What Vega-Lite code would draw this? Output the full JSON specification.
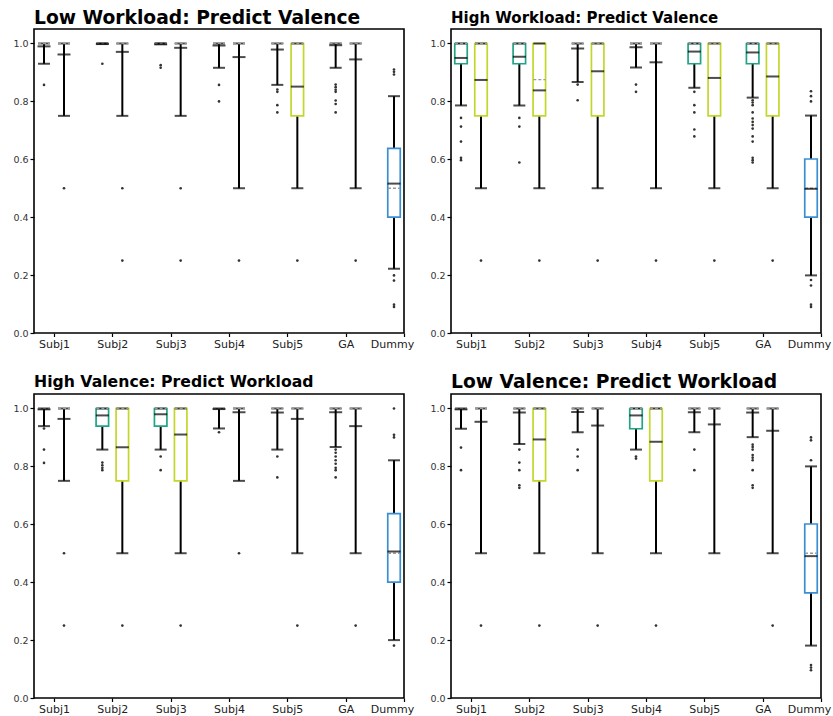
{
  "$schema": "https://vega.github.io/schema/vega-lite/v6.json",
  "autosize": {"type": "pad"},
  "padding": {"left": 12, "top": 7, "right": 0, "bottom": 0},
  "background": "white",
  "config": {
    "font": "DejaVu Sans",
    "view": {"stroke": "black", "strokeWidth": 1.6},
    "title": {"anchor": "start", "frame": "group", "font": "DejaVu Sans", "fontWeight": "bold", "baseline": "alphabetic", "color": "black"},
    "axisY": {"labelFontSize": 9.5, "labelColor": "#333", "tickColor": "black", "tickSize": 4, "tickWidth": 1.2, "labelPadding": 2, "domain": false, "grid": false, "titleOpacity": 0},
    "axisX": {"labelFontSize": 11, "labelColor": "#222", "tickColor": "black", "tickSize": 3.5, "tickWidth": 1.2, "labelPadding": 2, "domain": false, "grid": false, "labelAngle": 0}
  },
  "datasets": {
    "boxes": [
      {"panel":"LW-V","group":"Subj1","model":"A","lo":0.93,"q1":1,"median":1,"mean":0.99,"q3":1,"hi":1},
      {"panel":"LW-V","group":"Subj1","model":"B","lo":0.75,"q1":1,"median":1,"mean":0.962,"q3":1,"hi":1},
      {"panel":"LW-V","group":"Subj2","model":"A","lo":1,"q1":1,"median":1,"mean":0.998,"q3":1,"hi":1},
      {"panel":"LW-V","group":"Subj2","model":"B","lo":0.75,"q1":1,"median":1,"mean":0.971,"q3":1,"hi":1},
      {"panel":"LW-V","group":"Subj3","model":"A","lo":1,"q1":1,"median":1,"mean":0.997,"q3":1,"hi":1},
      {"panel":"LW-V","group":"Subj3","model":"B","lo":0.75,"q1":1,"median":1,"mean":0.985,"q3":1,"hi":1},
      {"panel":"LW-V","group":"Subj4","model":"A","lo":0.916,"q1":1,"median":1,"mean":0.993,"q3":1,"hi":1},
      {"panel":"LW-V","group":"Subj4","model":"B","lo":0.5,"q1":1,"median":1,"mean":0.953,"q3":1,"hi":1},
      {"panel":"LW-V","group":"Subj5","model":"A","lo":0.857,"q1":1,"median":1,"mean":0.979,"q3":1,"hi":1},
      {"panel":"LW-V","group":"Subj5","model":"B","lo":0.5,"q1":0.75,"median":1,"mean":0.851,"q3":1,"hi":1},
      {"panel":"LW-V","group":"GA","model":"A","lo":0.916,"q1":1,"median":1,"mean":0.994,"q3":1,"hi":1},
      {"panel":"LW-V","group":"GA","model":"B","lo":0.5,"q1":1,"median":1,"mean":0.945,"q3":1,"hi":1},
      {"panel":"LW-V","group":"Dummy","model":"A","lo":0.222,"q1":0.4,"median":0.5,"mean":0.516,"q3":0.638,"hi":0.818},

      {"panel":"HW-V","group":"Subj1","model":"A","lo":0.786,"q1":0.93,"median":1,"mean":0.95,"q3":1,"hi":1},
      {"panel":"HW-V","group":"Subj1","model":"B","lo":0.5,"q1":0.75,"median":1,"mean":0.874,"q3":1,"hi":1},
      {"panel":"HW-V","group":"Subj2","model":"A","lo":0.786,"q1":0.93,"median":1,"mean":0.954,"q3":1,"hi":1},
      {"panel":"HW-V","group":"Subj2","model":"B","lo":0.5,"q1":0.75,"median":0.875,"mean":0.838,"q3":1,"hi":1},
      {"panel":"HW-V","group":"Subj3","model":"A","lo":0.867,"q1":1,"median":1,"mean":0.983,"q3":1,"hi":1},
      {"panel":"HW-V","group":"Subj3","model":"B","lo":0.5,"q1":0.75,"median":1,"mean":0.904,"q3":1,"hi":1},
      {"panel":"HW-V","group":"Subj4","model":"A","lo":0.917,"q1":1,"median":1,"mean":0.987,"q3":1,"hi":1},
      {"panel":"HW-V","group":"Subj4","model":"B","lo":0.5,"q1":1,"median":1,"mean":0.935,"q3":1,"hi":1},
      {"panel":"HW-V","group":"Subj5","model":"A","lo":0.847,"q1":0.93,"median":1,"mean":0.972,"q3":1,"hi":1},
      {"panel":"HW-V","group":"Subj5","model":"B","lo":0.5,"q1":0.75,"median":1,"mean":0.881,"q3":1,"hi":1},
      {"panel":"HW-V","group":"GA","model":"A","lo":0.813,"q1":0.93,"median":1,"mean":0.969,"q3":1,"hi":1},
      {"panel":"HW-V","group":"GA","model":"B","lo":0.5,"q1":0.75,"median":1,"mean":0.886,"q3":1,"hi":1},
      {"panel":"HW-V","group":"Dummy","model":"A","lo":0.199,"q1":0.4,"median":0.5,"mean":0.498,"q3":0.601,"hi":0.751},

      {"panel":"HV-W","group":"Subj1","model":"A","lo":0.939,"q1":1,"median":1,"mean":0.997,"q3":1,"hi":1},
      {"panel":"HV-W","group":"Subj1","model":"B","lo":0.75,"q1":1,"median":1,"mean":0.964,"q3":1,"hi":1},
      {"panel":"HV-W","group":"Subj2","model":"A","lo":0.858,"q1":0.939,"median":1,"mean":0.976,"q3":1,"hi":1},
      {"panel":"HV-W","group":"Subj2","model":"B","lo":0.5,"q1":0.75,"median":1,"mean":0.866,"q3":1,"hi":1},
      {"panel":"HV-W","group":"Subj3","model":"A","lo":0.858,"q1":0.939,"median":1,"mean":0.98,"q3":1,"hi":1},
      {"panel":"HV-W","group":"Subj3","model":"B","lo":0.5,"q1":0.75,"median":1,"mean":0.91,"q3":1,"hi":1},
      {"panel":"HV-W","group":"Subj4","model":"A","lo":0.931,"q1":1,"median":1,"mean":0.998,"q3":1,"hi":1},
      {"panel":"HV-W","group":"Subj4","model":"B","lo":0.75,"q1":1,"median":1,"mean":0.987,"q3":1,"hi":1},
      {"panel":"HV-W","group":"Subj5","model":"A","lo":0.858,"q1":1,"median":1,"mean":0.986,"q3":1,"hi":1},
      {"panel":"HV-W","group":"Subj5","model":"B","lo":0.5,"q1":1,"median":1,"mean":0.964,"q3":1,"hi":1},
      {"panel":"HV-W","group":"GA","model":"A","lo":0.867,"q1":1,"median":1,"mean":0.987,"q3":1,"hi":1},
      {"panel":"HV-W","group":"GA","model":"B","lo":0.5,"q1":1,"median":1,"mean":0.939,"q3":1,"hi":1},
      {"panel":"HV-W","group":"Dummy","model":"A","lo":0.2,"q1":0.4,"median":0.5,"mean":0.506,"q3":0.637,"hi":0.821},

      {"panel":"LV-W","group":"Subj1","model":"A","lo":0.93,"q1":1,"median":1,"mean":0.997,"q3":1,"hi":1},
      {"panel":"LV-W","group":"Subj1","model":"B","lo":0.5,"q1":1,"median":1,"mean":0.954,"q3":1,"hi":1},
      {"panel":"LV-W","group":"Subj2","model":"A","lo":0.877,"q1":1,"median":1,"mean":0.986,"q3":1,"hi":1},
      {"panel":"LV-W","group":"Subj2","model":"B","lo":0.5,"q1":0.75,"median":1,"mean":0.893,"q3":1,"hi":1},
      {"panel":"LV-W","group":"Subj3","model":"A","lo":0.918,"q1":1,"median":1,"mean":0.988,"q3":1,"hi":1},
      {"panel":"LV-W","group":"Subj3","model":"B","lo":0.5,"q1":1,"median":1,"mean":0.941,"q3":1,"hi":1},
      {"panel":"LV-W","group":"Subj4","model":"A","lo":0.858,"q1":0.93,"median":1,"mean":0.976,"q3":1,"hi":1},
      {"panel":"LV-W","group":"Subj4","model":"B","lo":0.5,"q1":0.75,"median":1,"mean":0.885,"q3":1,"hi":1},
      {"panel":"LV-W","group":"Subj5","model":"A","lo":0.918,"q1":1,"median":1,"mean":0.987,"q3":1,"hi":1},
      {"panel":"LV-W","group":"Subj5","model":"B","lo":0.5,"q1":1,"median":1,"mean":0.945,"q3":1,"hi":1},
      {"panel":"LV-W","group":"GA","model":"A","lo":0.901,"q1":1,"median":1,"mean":0.986,"q3":1,"hi":1},
      {"panel":"LV-W","group":"GA","model":"B","lo":0.5,"q1":1,"median":1,"mean":0.923,"q3":1,"hi":1},
      {"panel":"LV-W","group":"Dummy","model":"A","lo":0.181,"q1":0.363,"median":0.5,"mean":0.49,"q3":0.601,"hi":0.8}
    ],
    "fliers": [
      {"panel":"LW-V","group":"Subj1","model":"A","v":0.857},
      {"panel":"LW-V","group":"Subj1","model":"B","v":0.5},
      {"panel":"LW-V","group":"Subj2","model":"A","v":0.93},
      {"panel":"LW-V","group":"Subj2","model":"B","v":0.5},
      {"panel":"LW-V","group":"Subj2","model":"B","v":0.25},
      {"panel":"LW-V","group":"Subj3","model":"A","v":0.925},
      {"panel":"LW-V","group":"Subj3","model":"A","v":0.916},
      {"panel":"LW-V","group":"Subj3","model":"B","v":0.5},
      {"panel":"LW-V","group":"Subj3","model":"B","v":0.25},
      {"panel":"LW-V","group":"Subj4","model":"A","v":0.857},
      {"panel":"LW-V","group":"Subj4","model":"A","v":0.8},
      {"panel":"LW-V","group":"Subj4","model":"B","v":0.25},
      {"panel":"LW-V","group":"Subj5","model":"A","v":0.841},
      {"panel":"LW-V","group":"Subj5","model":"A","v":0.833},
      {"panel":"LW-V","group":"Subj5","model":"A","v":0.787},
      {"panel":"LW-V","group":"Subj5","model":"A","v":0.762},
      {"panel":"LW-V","group":"Subj5","model":"B","v":0.25},
      {"panel":"LW-V","group":"GA","model":"A","v":0.858},
      {"panel":"LW-V","group":"GA","model":"A","v":0.849},
      {"panel":"LW-V","group":"GA","model":"A","v":0.84},
      {"panel":"LW-V","group":"GA","model":"A","v":0.833},
      {"panel":"LW-V","group":"GA","model":"A","v":0.803},
      {"panel":"LW-V","group":"GA","model":"A","v":0.791},
      {"panel":"LW-V","group":"GA","model":"A","v":0.762},
      {"panel":"LW-V","group":"GA","model":"B","v":0.25},
      {"panel":"LW-V","group":"Dummy","model":"A","v":0.91},
      {"panel":"LW-V","group":"Dummy","model":"A","v":0.902},
      {"panel":"LW-V","group":"Dummy","model":"A","v":0.893},
      {"panel":"LW-V","group":"Dummy","model":"A","v":0.199},
      {"panel":"LW-V","group":"Dummy","model":"A","v":0.181},
      {"panel":"LW-V","group":"Dummy","model":"A","v":0.098},
      {"panel":"LW-V","group":"Dummy","model":"A","v":0.09},

      {"panel":"HW-V","group":"Subj1","model":"A","v":0.743},
      {"panel":"HW-V","group":"Subj1","model":"A","v":0.713},
      {"panel":"HW-V","group":"Subj1","model":"A","v":0.661},
      {"panel":"HW-V","group":"Subj1","model":"A","v":0.605},
      {"panel":"HW-V","group":"Subj1","model":"A","v":0.597},
      {"panel":"HW-V","group":"Subj1","model":"B","v":0.25},
      {"panel":"HW-V","group":"Subj2","model":"A","v":0.743},
      {"panel":"HW-V","group":"Subj2","model":"A","v":0.713},
      {"panel":"HW-V","group":"Subj2","model":"A","v":0.589},
      {"panel":"HW-V","group":"Subj2","model":"B","v":0.25},
      {"panel":"HW-V","group":"Subj3","model":"A","v":0.858},
      {"panel":"HW-V","group":"Subj3","model":"A","v":0.804},
      {"panel":"HW-V","group":"Subj3","model":"B","v":0.25},
      {"panel":"HW-V","group":"Subj4","model":"A","v":0.858},
      {"panel":"HW-V","group":"Subj4","model":"A","v":0.833},
      {"panel":"HW-V","group":"Subj4","model":"B","v":0.25},
      {"panel":"HW-V","group":"Subj5","model":"A","v":0.833},
      {"panel":"HW-V","group":"Subj5","model":"A","v":0.787},
      {"panel":"HW-V","group":"Subj5","model":"A","v":0.762},
      {"panel":"HW-V","group":"Subj5","model":"A","v":0.703},
      {"panel":"HW-V","group":"Subj5","model":"A","v":0.679},
      {"panel":"HW-V","group":"Subj5","model":"B","v":0.25},
      {"panel":"HW-V","group":"GA","model":"A","v":0.804},
      {"panel":"HW-V","group":"GA","model":"A","v":0.796},
      {"panel":"HW-V","group":"GA","model":"A","v":0.787},
      {"panel":"HW-V","group":"GA","model":"A","v":0.762},
      {"panel":"HW-V","group":"GA","model":"A","v":0.741},
      {"panel":"HW-V","group":"GA","model":"A","v":0.729},
      {"panel":"HW-V","group":"GA","model":"A","v":0.718},
      {"panel":"HW-V","group":"GA","model":"A","v":0.706},
      {"panel":"HW-V","group":"GA","model":"A","v":0.679},
      {"panel":"HW-V","group":"GA","model":"A","v":0.661},
      {"panel":"HW-V","group":"GA","model":"A","v":0.605},
      {"panel":"HW-V","group":"GA","model":"A","v":0.597},
      {"panel":"HW-V","group":"GA","model":"A","v":0.589},
      {"panel":"HW-V","group":"GA","model":"B","v":0.25},
      {"panel":"HW-V","group":"Dummy","model":"A","v":0.835},
      {"panel":"HW-V","group":"Dummy","model":"A","v":0.818},
      {"panel":"HW-V","group":"Dummy","model":"A","v":0.8},
      {"panel":"HW-V","group":"Dummy","model":"A","v":0.183},
      {"panel":"HW-V","group":"Dummy","model":"A","v":0.164},
      {"panel":"HW-V","group":"Dummy","model":"A","v":0.098},
      {"panel":"HW-V","group":"Dummy","model":"A","v":0.09},

      {"panel":"HV-W","group":"Subj1","model":"A","v":0.931},
      {"panel":"HV-W","group":"Subj1","model":"A","v":0.858},
      {"panel":"HV-W","group":"Subj1","model":"A","v":0.812},
      {"panel":"HV-W","group":"Subj1","model":"B","v":0.5},
      {"panel":"HV-W","group":"Subj1","model":"B","v":0.25},
      {"panel":"HV-W","group":"Subj2","model":"A","v":0.813},
      {"panel":"HV-W","group":"Subj2","model":"A","v":0.804},
      {"panel":"HV-W","group":"Subj2","model":"A","v":0.795},
      {"panel":"HV-W","group":"Subj2","model":"A","v":0.787},
      {"panel":"HV-W","group":"Subj2","model":"B","v":0.25},
      {"panel":"HV-W","group":"Subj3","model":"A","v":0.834},
      {"panel":"HV-W","group":"Subj3","model":"A","v":0.787},
      {"panel":"HV-W","group":"Subj3","model":"B","v":0.25},
      {"panel":"HV-W","group":"Subj4","model":"A","v":0.918},
      {"panel":"HV-W","group":"Subj4","model":"B","v":0.5},
      {"panel":"HV-W","group":"Subj5","model":"A","v":0.834},
      {"panel":"HV-W","group":"Subj5","model":"A","v":0.762},
      {"panel":"HV-W","group":"Subj5","model":"B","v":0.25},
      {"panel":"HV-W","group":"GA","model":"A","v":0.858},
      {"panel":"HV-W","group":"GA","model":"A","v":0.847},
      {"panel":"HV-W","group":"GA","model":"A","v":0.834},
      {"panel":"HV-W","group":"GA","model":"A","v":0.821},
      {"panel":"HV-W","group":"GA","model":"A","v":0.809},
      {"panel":"HV-W","group":"GA","model":"A","v":0.795},
      {"panel":"HV-W","group":"GA","model":"A","v":0.787},
      {"panel":"HV-W","group":"GA","model":"A","v":0.762},
      {"panel":"HV-W","group":"GA","model":"B","v":0.25},
      {"panel":"HV-W","group":"Dummy","model":"A","v":1.0},
      {"panel":"HV-W","group":"Dummy","model":"A","v":0.909},
      {"panel":"HV-W","group":"Dummy","model":"A","v":0.9},
      {"panel":"HV-W","group":"Dummy","model":"A","v":0.181},

      {"panel":"LV-W","group":"Subj1","model":"A","v":0.865},
      {"panel":"LV-W","group":"Subj1","model":"A","v":0.787},
      {"panel":"LV-W","group":"Subj1","model":"B","v":0.25},
      {"panel":"LV-W","group":"Subj2","model":"A","v":0.858},
      {"panel":"LV-W","group":"Subj2","model":"A","v":0.813},
      {"panel":"LV-W","group":"Subj2","model":"A","v":0.787},
      {"panel":"LV-W","group":"Subj2","model":"A","v":0.735},
      {"panel":"LV-W","group":"Subj2","model":"A","v":0.726},
      {"panel":"LV-W","group":"Subj2","model":"B","v":0.25},
      {"panel":"LV-W","group":"Subj3","model":"A","v":0.858},
      {"panel":"LV-W","group":"Subj3","model":"A","v":0.834},
      {"panel":"LV-W","group":"Subj3","model":"A","v":0.787},
      {"panel":"LV-W","group":"Subj3","model":"B","v":0.25},
      {"panel":"LV-W","group":"Subj4","model":"A","v":0.834},
      {"panel":"LV-W","group":"Subj4","model":"A","v":0.827},
      {"panel":"LV-W","group":"Subj4","model":"B","v":0.25},
      {"panel":"LV-W","group":"Subj5","model":"A","v":0.858},
      {"panel":"LV-W","group":"Subj5","model":"A","v":0.787},
      {"panel":"LV-W","group":"GA","model":"A","v":0.875},
      {"panel":"LV-W","group":"GA","model":"A","v":0.867},
      {"panel":"LV-W","group":"GA","model":"A","v":0.858},
      {"panel":"LV-W","group":"GA","model":"A","v":0.839},
      {"panel":"LV-W","group":"GA","model":"A","v":0.83},
      {"panel":"LV-W","group":"GA","model":"A","v":0.821},
      {"panel":"LV-W","group":"GA","model":"A","v":0.787},
      {"panel":"LV-W","group":"GA","model":"A","v":0.735},
      {"panel":"LV-W","group":"GA","model":"A","v":0.726},
      {"panel":"LV-W","group":"GA","model":"B","v":0.25},
      {"panel":"LV-W","group":"Dummy","model":"A","v":0.9},
      {"panel":"LV-W","group":"Dummy","model":"A","v":0.89},
      {"panel":"LV-W","group":"Dummy","model":"A","v":0.821},
      {"panel":"LV-W","group":"Dummy","model":"A","v":0.114},
      {"panel":"LV-W","group":"Dummy","model":"A","v":0.105},
      {"panel":"LV-W","group":"Dummy","model":"A","v":0.096}
    ]
  },
  "columns": 2,
  "bounds": "flush",
  "spacing": {"row": 61, "column": 47},
  "concat": [
    {
      "title": {"text": "Low Workload: Predict Valence", "fontSize": 18.7, "offset": 1.6},
      "width": 370, "height": 304,
      "data": {"name": "boxes"},
      "transform": [{"filter": "datum.panel === 'LW-V'"}],
      "encoding": {
        "x": {"field": "group", "type": "nominal", "title": null, "scale": {"type": "point", "padding": 0, "domain": ["Subj1","Subj2","Subj3","Subj4","Subj5","GA","Dummy"], "range": [20, 370]},
              "axis": {"labelOffset": {"condition": {"test": "datum.value === 'Dummy'", "value": -12}, "value": 0}}},
        "xOffset": {"field": "model", "type": "nominal", "scale": {"type": "point", "padding": 0, "domain": ["A","B"], "range": [-10, 10]}}
      },
      "layer": [
        {"mark": {"type": "rule", "color": "black", "strokeWidth": 2},
         "encoding": {"y": {"field": "lo", "type": "quantitative", "title": null, "scale": {"domain": [0, 1.05], "nice": false, "zero": false},
                            "axis": {"values": [0, 0.2, 0.4, 0.6, 0.8, 1.0], "format": ".1f"}},
                      "y2": {"field": "hi"}}},
        {"transform": [{"filter": "datum.q1 < datum.q3"}],
         "mark": {"type": "bar", "fill": "white", "strokeWidth": 1.7, "width": 12.5},
         "encoding": {"y": {"field": "q1", "type": "quantitative", "title": null, "scale": {"domain": [0, 1.05], "nice": false, "zero": false}},
                      "y2": {"field": "q3"},
                      "stroke": {"condition": {"test": "datum.group === 'Dummy'", "value": "#3a8fd4"}, "field": "model", "type": "nominal", "scale": {"domain": ["A","B"], "range": ["#21a386", "#c3d72a"]}, "legend": null}}},
        {"mark": {"type": "tick", "color": "black", "thickness": 2, "size": 12},
         "encoding": {"y": {"field": "lo", "type": "quantitative", "title": null, "scale": {"domain": [0, 1.05], "nice": false, "zero": false}}}},
        {"mark": {"type": "tick", "color": "black", "thickness": 2, "size": 12},
         "encoding": {"y": {"field": "hi", "type": "quantitative", "title": null, "scale": {"domain": [0, 1.05], "nice": false, "zero": false}}}},
        {"mark": {"type": "point", "shape": "M-1,0L1,0", "size": 144, "filled": false, "stroke": "#9a9a9a", "strokeWidth": 1.3, "strokeDash": [3, 2], "opacity": 1},
         "encoding": {"y": {"field": "median", "type": "quantitative", "title": null, "scale": {"domain": [0, 1.05], "nice": false, "zero": false}}}},
        {"mark": {"type": "tick", "color": "black", "thickness": 2, "size": 13},
         "encoding": {"y": {"field": "mean", "type": "quantitative", "title": null, "scale": {"domain": [0, 1.05], "nice": false, "zero": false}}}},
        {"data": {"name": "fliers"}, "transform": [{"filter": "datum.panel === 'LW-V'"}],
         "mark": {"type": "circle", "color": "#333", "size": 7, "opacity": 1},
         "encoding": {"y": {"field": "v", "type": "quantitative", "title": null, "scale": {"domain": [0, 1.05], "nice": false, "zero": false}}}}
      ]
    },
    {
      "title": {"text": "High Workload: Predict Valence", "fontSize": 15, "offset": 3.3},
      "width": 370, "height": 304,
      "data": {"name": "boxes"},
      "transform": [{"filter": "datum.panel === 'HW-V'"}],
      "encoding": {
        "x": {"field": "group", "type": "nominal", "title": null, "scale": {"type": "point", "padding": 0, "domain": ["Subj1","Subj2","Subj3","Subj4","Subj5","GA","Dummy"], "range": [20, 370]},
              "axis": {"labelOffset": {"condition": {"test": "datum.value === 'Dummy'", "value": -12}, "value": 0}}},
        "xOffset": {"field": "model", "type": "nominal", "scale": {"type": "point", "padding": 0, "domain": ["A","B"], "range": [-10, 10]}}
      },
      "layer": [
        {"mark": {"type": "rule", "color": "black", "strokeWidth": 2},
         "encoding": {"y": {"field": "lo", "type": "quantitative", "title": null, "scale": {"domain": [0, 1.05], "nice": false, "zero": false},
                            "axis": {"values": [0, 0.2, 0.4, 0.6, 0.8, 1.0], "format": ".1f"}},
                      "y2": {"field": "hi"}}},
        {"transform": [{"filter": "datum.q1 < datum.q3"}],
         "mark": {"type": "bar", "fill": "white", "strokeWidth": 1.7, "width": 12.5},
         "encoding": {"y": {"field": "q1", "type": "quantitative", "title": null, "scale": {"domain": [0, 1.05], "nice": false, "zero": false}},
                      "y2": {"field": "q3"},
                      "stroke": {"condition": {"test": "datum.group === 'Dummy'", "value": "#3a8fd4"}, "field": "model", "type": "nominal", "scale": {"domain": ["A","B"], "range": ["#21a386", "#c3d72a"]}, "legend": null}}},
        {"mark": {"type": "tick", "color": "black", "thickness": 2, "size": 12},
         "encoding": {"y": {"field": "lo", "type": "quantitative", "title": null, "scale": {"domain": [0, 1.05], "nice": false, "zero": false}}}},
        {"mark": {"type": "tick", "color": "black", "thickness": 2, "size": 12},
         "encoding": {"y": {"field": "hi", "type": "quantitative", "title": null, "scale": {"domain": [0, 1.05], "nice": false, "zero": false}}}},
        {"mark": {"type": "point", "shape": "M-1,0L1,0", "size": 144, "filled": false, "stroke": "#9a9a9a", "strokeWidth": 1.3, "strokeDash": [3, 2], "opacity": 1},
         "encoding": {"y": {"field": "median", "type": "quantitative", "title": null, "scale": {"domain": [0, 1.05], "nice": false, "zero": false}}}},
        {"mark": {"type": "tick", "color": "black", "thickness": 2, "size": 13},
         "encoding": {"y": {"field": "mean", "type": "quantitative", "title": null, "scale": {"domain": [0, 1.05], "nice": false, "zero": false}}}},
        {"data": {"name": "fliers"}, "transform": [{"filter": "datum.panel === 'HW-V'"}],
         "mark": {"type": "circle", "color": "#333", "size": 7, "opacity": 1},
         "encoding": {"y": {"field": "v", "type": "quantitative", "title": null, "scale": {"domain": [0, 1.05], "nice": false, "zero": false}}}}
      ]
    },
    {
      "title": {"text": "High Valence: Predict Workload", "fontSize": 15.7, "offset": 3},
      "width": 370, "height": 304,
      "data": {"name": "boxes"},
      "transform": [{"filter": "datum.panel === 'HV-W'"}],
      "encoding": {
        "x": {"field": "group", "type": "nominal", "title": null, "scale": {"type": "point", "padding": 0, "domain": ["Subj1","Subj2","Subj3","Subj4","Subj5","GA","Dummy"], "range": [20, 370]},
              "axis": {"labelOffset": {"condition": {"test": "datum.value === 'Dummy'", "value": -12}, "value": 0}}},
        "xOffset": {"field": "model", "type": "nominal", "scale": {"type": "point", "padding": 0, "domain": ["A","B"], "range": [-10, 10]}}
      },
      "layer": [
        {"mark": {"type": "rule", "color": "black", "strokeWidth": 2},
         "encoding": {"y": {"field": "lo", "type": "quantitative", "title": null, "scale": {"domain": [0, 1.05], "nice": false, "zero": false},
                            "axis": {"values": [0, 0.2, 0.4, 0.6, 0.8, 1.0], "format": ".1f"}},
                      "y2": {"field": "hi"}}},
        {"transform": [{"filter": "datum.q1 < datum.q3"}],
         "mark": {"type": "bar", "fill": "white", "strokeWidth": 1.7, "width": 12.5},
         "encoding": {"y": {"field": "q1", "type": "quantitative", "title": null, "scale": {"domain": [0, 1.05], "nice": false, "zero": false}},
                      "y2": {"field": "q3"},
                      "stroke": {"condition": {"test": "datum.group === 'Dummy'", "value": "#3a8fd4"}, "field": "model", "type": "nominal", "scale": {"domain": ["A","B"], "range": ["#21a386", "#c3d72a"]}, "legend": null}}},
        {"mark": {"type": "tick", "color": "black", "thickness": 2, "size": 12},
         "encoding": {"y": {"field": "lo", "type": "quantitative", "title": null, "scale": {"domain": [0, 1.05], "nice": false, "zero": false}}}},
        {"mark": {"type": "tick", "color": "black", "thickness": 2, "size": 12},
         "encoding": {"y": {"field": "hi", "type": "quantitative", "title": null, "scale": {"domain": [0, 1.05], "nice": false, "zero": false}}}},
        {"mark": {"type": "point", "shape": "M-1,0L1,0", "size": 144, "filled": false, "stroke": "#9a9a9a", "strokeWidth": 1.3, "strokeDash": [3, 2], "opacity": 1},
         "encoding": {"y": {"field": "median", "type": "quantitative", "title": null, "scale": {"domain": [0, 1.05], "nice": false, "zero": false}}}},
        {"mark": {"type": "tick", "color": "black", "thickness": 2, "size": 13},
         "encoding": {"y": {"field": "mean", "type": "quantitative", "title": null, "scale": {"domain": [0, 1.05], "nice": false, "zero": false}}}},
        {"data": {"name": "fliers"}, "transform": [{"filter": "datum.panel === 'HV-W'"}],
         "mark": {"type": "circle", "color": "#333", "size": 7, "opacity": 1},
         "encoding": {"y": {"field": "v", "type": "quantitative", "title": null, "scale": {"domain": [0, 1.05], "nice": false, "zero": false}}}}
      ]
    },
    {
      "title": {"text": "Low Valence: Predict Workload", "fontSize": 18.7, "offset": 2.3},
      "width": 370, "height": 304,
      "data": {"name": "boxes"},
      "transform": [{"filter": "datum.panel === 'LV-W'"}],
      "encoding": {
        "x": {"field": "group", "type": "nominal", "title": null, "scale": {"type": "point", "padding": 0, "domain": ["Subj1","Subj2","Subj3","Subj4","Subj5","GA","Dummy"], "range": [20, 370]},
              "axis": {"labelOffset": {"condition": {"test": "datum.value === 'Dummy'", "value": -12}, "value": 0}}},
        "xOffset": {"field": "model", "type": "nominal", "scale": {"type": "point", "padding": 0, "domain": ["A","B"], "range": [-10, 10]}}
      },
      "layer": [
        {"mark": {"type": "rule", "color": "black", "strokeWidth": 2},
         "encoding": {"y": {"field": "lo", "type": "quantitative", "title": null, "scale": {"domain": [0, 1.05], "nice": false, "zero": false},
                            "axis": {"values": [0, 0.2, 0.4, 0.6, 0.8, 1.0], "format": ".1f"}},
                      "y2": {"field": "hi"}}},
        {"transform": [{"filter": "datum.q1 < datum.q3"}],
         "mark": {"type": "bar", "fill": "white", "strokeWidth": 1.7, "width": 12.5},
         "encoding": {"y": {"field": "q1", "type": "quantitative", "title": null, "scale": {"domain": [0, 1.05], "nice": false, "zero": false}},
                      "y2": {"field": "q3"},
                      "stroke": {"condition": {"test": "datum.group === 'Dummy'", "value": "#3a8fd4"}, "field": "model", "type": "nominal", "scale": {"domain": ["A","B"], "range": ["#21a386", "#c3d72a"]}, "legend": null}}},
        {"mark": {"type": "tick", "color": "black", "thickness": 2, "size": 12},
         "encoding": {"y": {"field": "lo", "type": "quantitative", "title": null, "scale": {"domain": [0, 1.05], "nice": false, "zero": false}}}},
        {"mark": {"type": "tick", "color": "black", "thickness": 2, "size": 12},
         "encoding": {"y": {"field": "hi", "type": "quantitative", "title": null, "scale": {"domain": [0, 1.05], "nice": false, "zero": false}}}},
        {"mark": {"type": "point", "shape": "M-1,0L1,0", "size": 144, "filled": false, "stroke": "#9a9a9a", "strokeWidth": 1.3, "strokeDash": [3, 2], "opacity": 1},
         "encoding": {"y": {"field": "median", "type": "quantitative", "title": null, "scale": {"domain": [0, 1.05], "nice": false, "zero": false}}}},
        {"mark": {"type": "tick", "color": "black", "thickness": 2, "size": 13},
         "encoding": {"y": {"field": "mean", "type": "quantitative", "title": null, "scale": {"domain": [0, 1.05], "nice": false, "zero": false}}}},
        {"data": {"name": "fliers"}, "transform": [{"filter": "datum.panel === 'LV-W'"}],
         "mark": {"type": "circle", "color": "#333", "size": 7, "opacity": 1},
         "encoding": {"y": {"field": "v", "type": "quantitative", "title": null, "scale": {"domain": [0, 1.05], "nice": false, "zero": false}}}}
      ]
    }
  ]
}
